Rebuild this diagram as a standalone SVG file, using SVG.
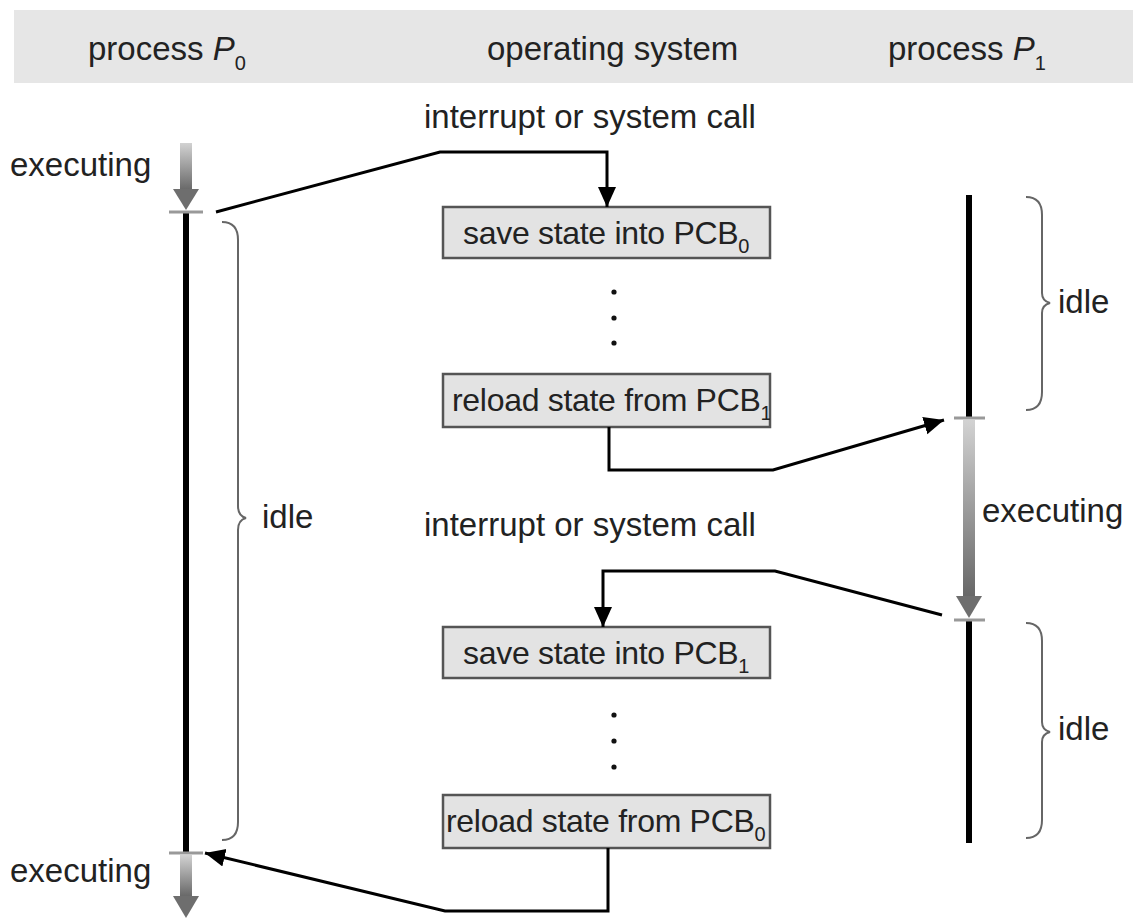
<svg xmlns="http://www.w3.org/2000/svg" width="1133" height="920" viewBox="0 0 1133 920">
  <defs>
    <linearGradient id="execGrad" x1="0" y1="0" x2="0" y2="1">
      <stop offset="0" stop-color="#d2d2d2"/>
      <stop offset="1" stop-color="#666666"/>
    </linearGradient>
    <marker id="head" markerUnits="userSpaceOnUse" markerWidth="24" markerHeight="20" refX="20" refY="9" orient="auto">
      <path d="M0,0 L20,9 L0,18 Z" fill="#000"/>
    </marker>
    <clipPath id="clipReload1">
      <rect x="443" y="374" width="327" height="53"/>
    </clipPath>
  </defs>
  <style>
    text { font-family: "Liberation Sans", Arial, sans-serif; font-size: 33px; fill: #222; }
    .boxtext { font-size: 32px; letter-spacing: -0.3px; }
    .sub { font-size: 20px; }
    .box { fill: #e3e3e3; stroke: #555; stroke-width: 2.5; }
    .life { stroke: #000; stroke-width: 6; }
    .tick { stroke: #999; stroke-width: 3; }
    .brace { fill: none; stroke: #666; stroke-width: 2; }
    .link { fill: none; stroke: #000; stroke-width: 3; stroke-linejoin: miter; }
    .dot { fill: #111; }
  </style>

  <rect width="1133" height="920" fill="#fff"/>

  <!-- column headings -->
  <g id="header">
    <rect x="14" y="10" width="1119" height="73" fill="#e6e6e6"/>
    <text x="88" y="60">process <tspan font-style="italic">P</tspan><tspan class="sub" dy="10">0</tspan></text>
    <text x="487" y="60">operating system</text>
    <text x="888" y="60">process <tspan font-style="italic">P</tspan><tspan class="sub" dy="10">1</tspan></text>
  </g>

  <!-- process P0 timeline -->
  <g id="p0">
    <rect x="180" y="143" width="12" height="48" fill="url(#execGrad)"/>
    <path d="M173,189 L199,189 L186,210 Z" fill="#6e6e6e"/>
    <line class="life" x1="186" y1="212" x2="186" y2="853"/>
    <line class="tick" x1="169" y1="212" x2="203" y2="212"/>
    <line class="tick" x1="169" y1="853" x2="203" y2="853"/>
    <rect x="180" y="855" width="12" height="42" fill="url(#execGrad)"/>
    <path d="M173,896 L199,896 L186,918 Z" fill="#6e6e6e"/>
    <text x="10" y="176">executing</text>
    <text x="10" y="882">executing</text>
    <path class="brace" d="M222,222 Q238,222 238,240 V506 Q238,516 246,518 Q238,520 238,530 V822 Q238,840 222,840"/>
    <text x="262" y="528">idle</text>
  </g>

  <!-- process P1 timeline -->
  <g id="p1">
    <line class="life" x1="969" y1="195" x2="969" y2="418"/>
    <rect x="963" y="420" width="12" height="178" fill="url(#execGrad)"/>
    <path d="M956,596 L982,596 L969,618 Z" fill="#6e6e6e"/>
    <line class="life" x1="969" y1="620" x2="969" y2="843"/>
    <line class="tick" x1="954" y1="418" x2="985" y2="418"/>
    <line class="tick" x1="954" y1="620" x2="985" y2="620"/>
    <text x="982" y="522">executing</text>
    <path class="brace" d="M1026,197 Q1042,197 1042,215 V293 Q1042,301 1050,303 Q1042,305 1042,313 V392 Q1042,410 1026,410"/>
    <text x="1058" y="313">idle</text>
    <path class="brace" d="M1026,623 Q1042,623 1042,641 V722 Q1042,730 1050,732 Q1042,734 1042,742 V820 Q1042,838 1026,838"/>
    <text x="1058" y="740">idle</text>
  </g>

  <!-- operating system steps -->
  <g id="os-save0">
    <rect class="box" x="443" y="207" width="327" height="51"/>
    <text class="boxtext" x="463" y="244">save state into PCB<tspan class="sub" dy="9">0</tspan></text>
  </g>
  <g id="os-dots1">
    <circle class="dot" cx="614" cy="292" r="2.6"/>
    <circle class="dot" cx="614" cy="318" r="2.6"/>
    <circle class="dot" cx="614" cy="343" r="2.6"/>
  </g>
  <g id="os-reload1">
    <rect class="box" x="443" y="374" width="327" height="53"/>
    <text class="boxtext" x="452" y="411" clip-path="url(#clipReload1)">reload state from PCB<tspan class="sub" dy="9">1</tspan></text>
  </g>
  <g id="os-save1">
    <rect class="box" x="443" y="627" width="327" height="51"/>
    <text class="boxtext" x="463" y="664">save state into PCB<tspan class="sub" dy="9">1</tspan></text>
  </g>
  <g id="os-dots2">
    <circle class="dot" cx="614" cy="715" r="2.6"/>
    <circle class="dot" cx="614" cy="741" r="2.6"/>
    <circle class="dot" cx="614" cy="767" r="2.6"/>
  </g>
  <g id="os-reload0">
    <rect class="box" x="443" y="795" width="327" height="53"/>
    <text class="boxtext" x="446" y="832">reload state from PCB<tspan class="sub" dy="9">0</tspan></text>
  </g>

  <text x="424" y="128">interrupt or system call</text>
  <text x="424" y="536">interrupt or system call</text>

  <!-- control transfers -->
  <g id="connectors">
    <path class="link" d="M216,212 L440,152 L607,152 L607,207" marker-end="url(#head)"/>
    <path class="link" d="M609,427 L609,470 L773,470 L944,420" marker-end="url(#head)"/>
    <path class="link" d="M942,615 L775,571 L603,571 L603,627" marker-end="url(#head)"/>
    <path class="link" d="M608,848 L608,911 L445,911 L205,853" marker-end="url(#head)"/>
  </g>
</svg>
